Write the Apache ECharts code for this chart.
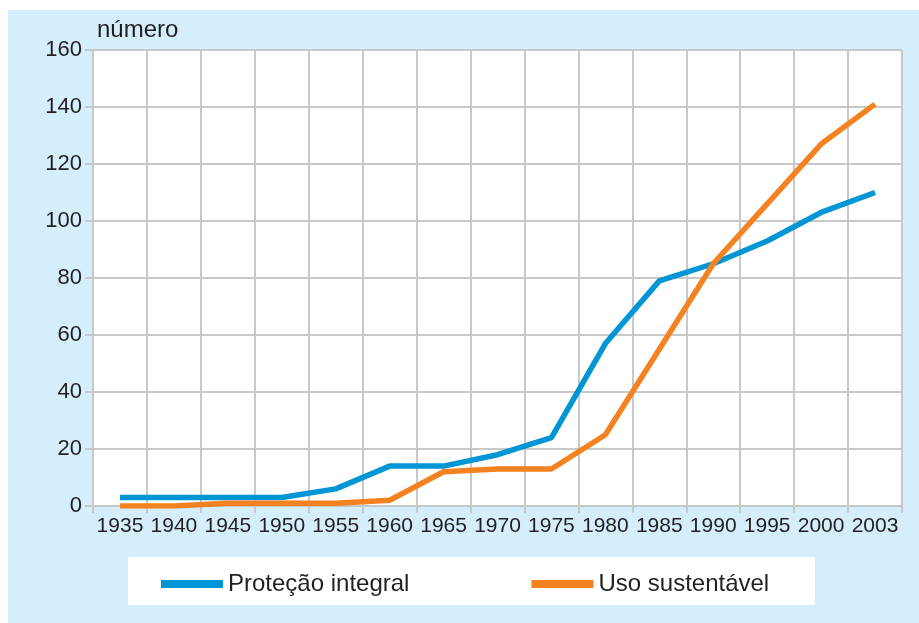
<!DOCTYPE html>
<html>
<head>
<meta charset="utf-8">
<script src="https://cdn.jsdelivr.net/npm/echarts@6/dist/echarts.min.js"></script>
<style>
  html, body { margin: 0; padding: 0; background: #fff; }
  #chart { position: absolute; left: 8px; top: 10px; width: 911px; height: 613px; }
</style>
</head>
<body>
<div id="chart"></div>
<script>
// anos (categorias do eixo x)
var anos = ['1935', '1940', '1945', '1950', '1955', '1960', '1965', '1970',
  '1975', '1980', '1985', '1990', '1995', '2000', '2003']
// número de unidades de conservação
var protecaoIntegral = [3, 3, 3, 3, 6, 14, 14, 18, 24, 57, 79, 85, 93, 103, 110]
var usoSustentavel = [0, 0, 1, 1, 1, 2, 12, 13, 13, 25, 55, 85, 106, 127, 141]

var corGrade = '#c8c8c8'
var corTexto = '#231f20'
var fonte = '"Liberation Sans", Arial, sans-serif'

var chart = echarts.init(document.getElementById('chart'))
chart.setOption({
  backgroundColor: '#d4eefc',
  animation: false,
  grid: {
    left: 85,
    right: 17,
    top: 40,
    bottom: 117,
    show: true,
    backgroundColor: '#fff',
    borderWidth: 0
  },
  // caixa branca da legenda
  graphic: [{
    type: 'rect',
    z: 0,
    shape: { x: 120, y: 547, width: 687, height: 48 },
    style: { fill: '#fff' }
  }],
  legend: {
    z: 10,
    left: 148,
    top: 557,
    icon: 'rect',
    itemWidth: 62,
    itemHeight: 8,
    itemGap: 122,
    textStyle: { fontFamily: fonte, fontSize: 24, color: corTexto },
    data: ['Proteção integral', 'Uso sustentável']
  },
  xAxis: {
    type: 'category',
    data: anos,
    boundaryGap: true,
    axisLine: { lineStyle: { color: corGrade, width: 2 } },
    axisTick: { show: true, length: 7, interval: 0, lineStyle: { color: corGrade, width: 2 } },
    axisLabel: { interval: 0, margin: 10, fontFamily: fonte, fontSize: 21, color: corTexto },
    splitLine: { show: true, interval: 0, lineStyle: { color: corGrade, width: 2 } }
  },
  yAxis: {
    type: 'value',
    min: 0,
    max: 160,
    interval: 20,
    name: 'número',
    nameLocation: 'end',
    nameGap: 8,
    nameTextStyle: { fontFamily: fonte, fontSize: 24, color: corTexto, align: 'left', padding: [0, 0, 0, 4] },
    axisLine: { show: true, lineStyle: { color: corGrade, width: 2 } },
    axisTick: { show: true, length: 8, lineStyle: { color: corGrade, width: 2 } },
    axisLabel: { margin: 11, fontFamily: fonte, fontSize: 22, color: corTexto },
    splitLine: { show: true, lineStyle: { color: corGrade, width: 2 } }
  },
  series: [
    {
      name: 'Proteção integral',
      type: 'line',
      data: protecaoIntegral,
      symbol: 'none',
      color: '#0096d6',
      lineStyle: { width: 5.5, color: '#0096d6' },
      z: 3
    },
    {
      name: 'Uso sustentável',
      type: 'line',
      data: usoSustentavel,
      symbol: 'none',
      color: '#f58220',
      lineStyle: { width: 5.5, color: '#f58220' },
      z: 4
    }
  ]
})
</script>
</body>
</html>
